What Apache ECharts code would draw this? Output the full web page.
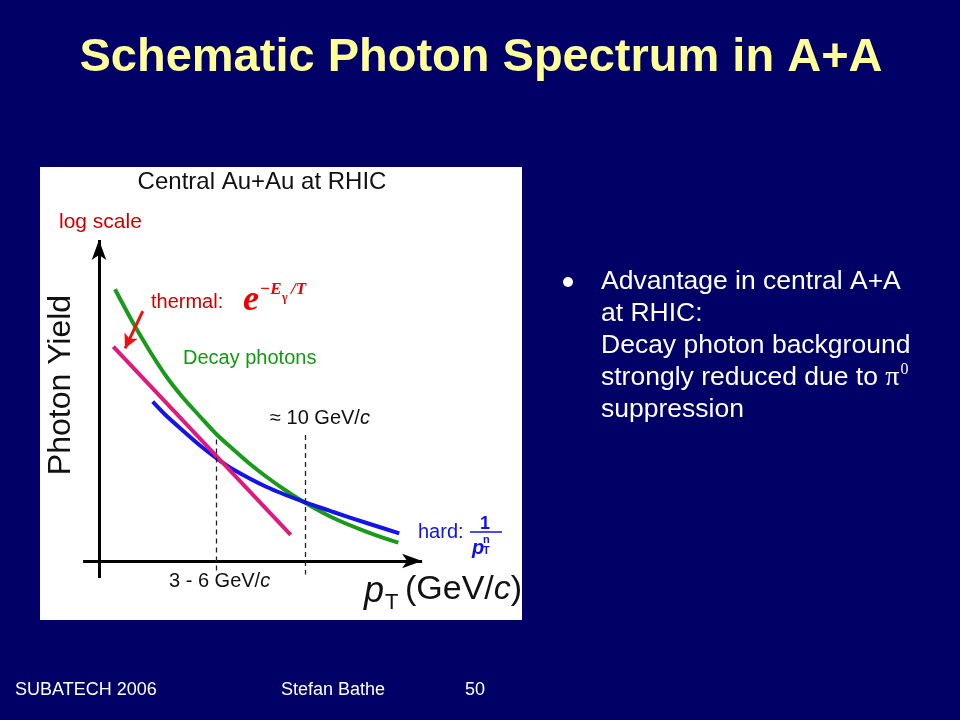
<!DOCTYPE html>
<html>
<head>
<meta charset="utf-8">
<script src="https://cdn.jsdelivr.net/npm/echarts@6/dist/echarts.min.js"></script>
<style>html,body{margin:0;padding:0;background:#000066;}#c{width:960px;height:720px;}</style>
</head>
<body>
<div id="c"></div>
<script>
// Schematic values (arbitrary units)
const decayX = [5.33, 11.43, 17.0, 22.57, 28.1, 33.67, 39.23, 44.77, 50.33, 55.9, 62.0, 68.1, 78.1, 89.23, 99.77];
const decayY = [90.57, 79.23, 69.83, 61.33, 54.33, 48.17, 42.17, 37.17, 32.33, 28.0, 23.67, 19.77, 14.33, 9.73, 6.1];
const hardX = [17.9, 22.0, 28.1, 33.67, 39.23, 44.77, 55.9, 68.1, 78.1, 89.23, 100.1];
const hardY = [53.1, 48.83, 43.33, 38.5, 34.23, 30.5, 24.67, 19.77, 16.33, 12.67, 9.23];
const thermalX = [4.77, 63.9];
const thermalY = [71.43, 8.67];
const markerX = [39.2, 68.7];      // 3-6 GeV/c and ~10 GeV/c
const markerTop = [40.5, 42.0];

const zip = (xs, ys) => xs.map((x, i) => [x, ys[i]]);
const SANS = '"Liberation Sans", Arial, sans-serif';
const SERIF = '"Liberation Serif", "Times New Roman", serif';

const chart = echarts.init(document.getElementById('c'), null, {renderer: 'canvas'});

const txt = (x, y, text, font, fill, align, extra) => ({
  type: 'text', x: x, y: y, z: 10,
  style: Object.assign({text: text, font: font, fill: fill, textAlign: align || 'left', textVerticalAlign: 'middle'}, extra || {})
});

const BF = '26.5px ' + SANS;

const option = {
  backgroundColor: '#000066',
  animation: false,
  grid: {left: 81, top: 231, width: 348, height: 348},
  xAxis: {type: 'value', min: -6, max: 110, axisLine: {show: false}, axisTick: {show: false}, axisLabel: {show: false}, splitLine: {show: false}},
  yAxis: {type: 'value', min: -6, max: 110, axisLine: {show: false}, axisTick: {show: false}, axisLabel: {show: false}, splitLine: {show: false}},
  graphic: [
    {type: 'rect', shape: {x: 40, y: 167, width: 482, height: 453}, style: {fill: '#ffffff'}, z: -10},
    txt(481, 58, 'Schematic Photon Spectrum in A+A', 'bold 47px ' + SANS, '#ffff99', 'center'),
    txt(262, 182, 'Central Au+Au at RHIC', '24px ' + SANS, '#111111', 'center'),
    txt(59, 222, 'log scale', '21px ' + SANS, '#cc0000'),
    {type: 'text', x: 61, y: 385, rotation: Math.PI / 2, z: 10,
     style: {text: 'Photon Yield', font: '32px ' + SANS, fill: '#111111', textAlign: 'center', textVerticalAlign: 'middle'}},
    txt(151, 302, 'thermal:', '20px ' + SANS, '#cc0000'),
    txt(243, 301, 'e', 'bold italic 36px ' + SERIF, '#ee0000'),
    txt(260, 290, '\u2212E', 'bold italic 17px ' + SERIF, '#ee0000'),
    txt(282, 298, '\u03b3', 'bold 12px ' + SERIF, '#ee0000'),
    txt(291, 290, '/T', 'bold italic 17px ' + SERIF, '#ee0000'),
    txt(183, 358, 'Decay photons', '20px ' + SANS, '#119911'),
    txt(270, 418, '{n|\u2248 10 GeV/}{i|c}', '20px ' + SANS, '#111111', 'left',
        {rich: {n: {font: '20px ' + SANS, fill: '#111111'}, i: {font: 'italic 20px ' + SANS, fill: '#111111'}}}),
    txt(169, 581, '{n|3 - 6 GeV/}{i|c}', '20px ' + SANS, '#111111', 'left',
        {rich: {n: {font: '20px ' + SANS, fill: '#111111'}, i: {font: 'italic 20px ' + SANS, fill: '#111111'}}}),
    txt(364, 592, 'p', 'italic 36px ' + SANS, '#111111'),
    txt(385, 603, 'T', '22px ' + SANS, '#111111'),
    txt(405, 590, '{n|(GeV/}{i|c}{n|)}', '34px ' + SANS, '#111111', 'left',
        {rich: {n: {font: '34px ' + SANS, fill: '#111111'}, i: {font: 'italic 34px ' + SANS, fill: '#111111'}}}),
    txt(418, 532, 'hard:', '20px ' + SANS, '#1010ee'),
    txt(485, 524, '1', 'bold 18px ' + SANS, '#1010ee', 'center'),
    {type: 'line', z: 10, shape: {x1: 470, y1: 532, x2: 502, y2: 532}, style: {stroke: '#1010ee', lineWidth: 1.5}},
    txt(472, 548, 'p', 'bold italic 20px ' + SANS, '#1010ee'),
    txt(483, 540, 'n', 'bold 11px ' + SANS, '#1010ee'),
    txt(483, 551, 'T', 'bold 11px ' + SANS, '#1010ee'),
    {type: 'circle', z: 10, shape: {cx: 568, cy: 282, r: 5}, style: {fill: '#ffffff'}},
    txt(601, 282, 'Advantage in central A+A', BF, '#ffffff'),
    txt(601, 314, 'at RHIC:', BF, '#ffffff'),
    txt(601, 346, 'Decay photon background', BF, '#ffffff'),
    txt(601, 378, '{n|strongly reduced due to }{p|\u03c0}{s|0}', BF, '#ffffff', 'left',
        {rich: {n: {font: BF, fill: '#ffffff', lineHeight: 32},
                p: {font: '28px ' + SERIF, fill: '#ffffff', lineHeight: 32},
                s: {font: '16px ' + SERIF, fill: '#ffffff', verticalAlign: 'top', lineHeight: 32, padding: [0, 0, 0, 1]}}}),
    txt(601, 410, 'suppression', BF, '#ffffff'),
    txt(15, 690, 'SUBATECH 2006', '18px ' + SANS, '#ffffff'),
    txt(281, 690, 'Stefan Bathe', '18px ' + SANS, '#ffffff'),
    txt(465, 690, '50', '18px ' + SANS, '#ffffff')
  ],
  series: [
    {
      name: 'axes', type: 'line', data: [], silent: true, z: 3,
      markLine: {
        silent: true, symbol: ['none', 'arrow'], symbolSize: [11, 20], label: {show: false},
        lineStyle: {color: '#000000', width: 3, type: 'solid'},
        data: [
          [{coord: [0, -5.7]}, {coord: [0, 107]}],
          [{coord: [-5.3, 0]}, {coord: [107.7, 0]}]
        ]
      }
    },
    {
      name: 'markers', type: 'line', data: [], silent: true, z: 1,
      markLine: {
        silent: true, symbol: ['none', 'none'], label: {show: false},
        lineStyle: {color: '#222222', width: 1.3, type: [5, 4]},
        data: markerX.map((x, i) => [{coord: [x, markerTop[i]]}, {coord: [x, -4.5]}])
      }
    },
    {
      name: 'Decay photons', type: 'line', data: zip(decayX, decayY), smooth: 0.25, showSymbol: false, clip: false,
      lineStyle: {color: '#1a9a1a', width: 4, join: 'round'}, z: 2
    },
    {
      name: 'hard', type: 'line', data: zip(hardX, hardY), smooth: 0.25, showSymbol: false, clip: false,
      lineStyle: {color: '#1414e6', width: 4, join: 'round'}, z: 3
    },
    {
      name: 'thermal', type: 'line', data: zip(thermalX, thermalY), showSymbol: false, clip: false,
      lineStyle: {color: '#e0197d', width: 4}, z: 4
    },
    {
      name: 'arrow', type: 'line', data: [], silent: true, z: 5,
      markLine: {
        silent: true, symbol: ['none', 'arrow'], symbolSize: [11, 14], label: {show: false},
        lineStyle: {color: '#ee1111', width: 3, type: 'solid'},
        data: [[{coord: [14.6, 83.3]}, {coord: [8.7, 70.9]}]]
      }
    }
  ]
};
chart.setOption(option);
</script>
</body>
</html>
